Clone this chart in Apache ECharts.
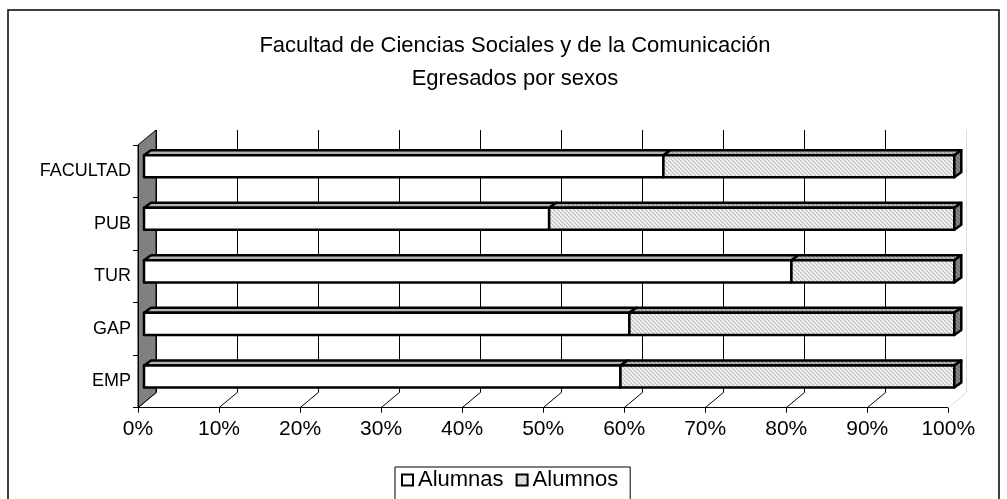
<!DOCTYPE html>
<html>
<head>
<meta charset="utf-8">
<script src="https://cdn.jsdelivr.net/npm/echarts@6/dist/echarts.min.js"></script>
<style>
  html, body { margin: 0; padding: 0; background: #fff; }
  #chart { width: 1007px; height: 499px; }
</style>
</head>
<body>
<div id="chart"></div>
<script>
  // datos (porcentaje sobre el total de egresados)
  const categorias = ['EMP', 'GAP', 'TUR', 'PUB', 'FACULTAD'];
  const alumnas = [58.8, 59.9, 79.9, 50.0, 64.1];
  const alumnos = [41.2, 40.1, 20.1, 50.0, 35.9];
  const ticksX = [0, 10, 20, 30, 40, 50, 60, 70, 80, 90, 100];

  const FONT = '"Liberation Sans", Arial, sans-serif';
  // profundidad del "3D" (pared del fondo) y del cuerpo de las barras
  const DEPTH = [18, -15];
  const FRONT = [6, -5];
  const BAR_DEPTH = [7, -5];

  const makeHatch = (bg, fg) => {
    const c = document.createElement('canvas');
    c.width = 4;
    c.height = 4;
    const ctx = c.getContext('2d');
    ctx.fillStyle = bg;
    ctx.fillRect(0, 0, 4, 4);
    ctx.strokeStyle = fg;
    ctx.lineWidth = 1.2;
    for (let k = -4; k <= 4; k += 4) {
      ctx.beginPath();
      ctx.moveTo(k, 0);
      ctx.lineTo(k + 4, 4);
      ctx.stroke();
    }
    return { image: c, repeat: 'repeat' };
  };

  const hatchFront = makeHatch('#f4f4f4', '#bababa');
  const hatchTop = makeHatch('#bcbcbc', '#8c8c8c');
  const hatchSide = makeHatch('#8a8a8a', '#666666');

  const barItem = (colors, last) => (params, api) => {
    const cat = api.value(0);
    const p0 = api.coord([api.value(1), cat]);
    const p1 = api.coord([api.value(2), cat]);
    const band = api.size([0, 1])[1];
    const h = band * 0.42;
    const x0 = p0[0] + FRONT[0];
    const x1 = p1[0] + FRONT[0];
    const yTop = p0[1] + FRONT[1] - h / 2;
    const yBot = yTop + h;
    const dx = BAR_DEPTH[0];
    const dy = BAR_DEPTH[1];
    const stroke = { stroke: '#000', lineWidth: 2.5, lineJoin: 'round' };
    const children = [
      {
        type: 'polygon',
        shape: { points: [[x0, yTop], [x0 + dx, yTop + dy], [x1 + dx, yTop + dy], [x1, yTop]] },
        style: Object.assign({ fill: colors.top }, stroke),
      },
      {
        type: 'rect',
        shape: { x: x0, y: yTop, width: x1 - x0, height: h },
        style: Object.assign({ fill: colors.front }, stroke),
      },
    ];
    if (last) {
      children.push({
        type: 'polygon',
        shape: { points: [[x1, yTop], [x1 + dx, yTop + dy], [x1 + dx, yBot + dy], [x1, yBot]] },
        style: Object.assign({ fill: colors.side }, stroke),
      });
    }
    return { type: 'group', children };
  };

  // pared izquierda y marcas del suelo
  const frameItem = (params, api) => {
    const v = api.value(0);
    const band = api.size([0, 1])[1];
    const p = api.coord([v, 0]);
    const bottom = p[1] + band / 2;
    const color = v === 100 ? '#dddddd' : '#000';
    const children = [{
      type: 'line',
      shape: { x1: p[0], y1: bottom, x2: p[0] + DEPTH[0], y2: bottom + DEPTH[1] },
      style: { stroke: color, lineWidth: 1 },
    }];
    if (v === 0) {
      const top = api.coord([0, categorias.length - 1])[1] - band / 2;
      children.push({
        type: 'polygon',
        shape: {
          points: [
            [p[0], top], [p[0] + DEPTH[0], top + DEPTH[1]],
            [p[0] + DEPTH[0], bottom + DEPTH[1]], [p[0], bottom],
          ],
        },
        style: { fill: '#808080', stroke: '#000', lineWidth: 1 },
      });
    }
    return { type: 'group', children };
  };

  const splitColors = ticksX.map((t) => (t === 100 ? '#dddddd' : '#000'));

  const chart = echarts.init(document.getElementById('chart'));
  chart.setOption({
    animation: false,
    backgroundColor: '#fff',
    textStyle: { fontFamily: FONT },
    title: {
      text: 'Facultad de Ciencias Sociales y de la Comunicación\nEgresados por sexos',
      left: 515,
      top: 29,
      padding: 0,
      textAlign: 'center',
      textStyle: { fontSize: 22, fontWeight: 'normal', color: '#000', lineHeight: 33, fontFamily: FONT },
    },
    legend: {
      left: 395,
      top: 467,
      padding: [2, 12, 40, 6],
      itemWidth: 11,
      itemHeight: 11,
      itemGap: 12,
      borderColor: '#000',
      borderWidth: 1,
      textStyle: { fontSize: 22, color: '#000', fontFamily: FONT },
      data: [
        { name: 'Alumnas', icon: 'rect', itemStyle: { color: '#fff', borderColor: '#000', borderWidth: 2 } },
        { name: 'Alumnos', icon: 'rect', itemStyle: { color: hatchFront, borderColor: '#000', borderWidth: 2 } },
      ],
    },
    graphic: [{
      type: 'rect',
      shape: { x: 8, y: 10, width: 991, height: 520 },
      style: { fill: null, stroke: '#000', lineWidth: 1.5 },
      silent: true,
    }],
    grid: [
      { left: 138, right: 58.7, top: 145, bottom: 91.3 },
      { left: 138 + DEPTH[0], right: 58.7 - DEPTH[0], top: 145 + DEPTH[1], bottom: 91.3 - DEPTH[1] },
    ],
    xAxis: [
      {
        gridIndex: 0,
        type: 'value',
        min: 0,
        max: 100,
        interval: 10,
        axisLine: { show: true, lineStyle: { color: '#000', width: 1 } },
        axisTick: { show: true, length: 5, lineStyle: { color: '#000' } },
        splitLine: { show: false },
        axisLabel: { formatter: '{value}%', fontSize: 21, color: '#000', margin: 11, fontFamily: FONT },
      },
      {
        gridIndex: 1,
        type: 'value',
        min: 0,
        max: 100,
        interval: 10,
        axisLine: { show: false },
        axisTick: { show: false },
        axisLabel: { show: false },
        splitLine: { show: true, lineStyle: { color: splitColors, width: 1 } },
      },
    ],
    yAxis: [
      {
        gridIndex: 0,
        type: 'category',
        data: categorias,
        axisLine: { show: true, lineStyle: { color: '#000', width: 1 } },
        axisTick: { show: true, length: 5, lineStyle: { color: '#000' } },
        axisLabel: { fontSize: 18, color: '#000', margin: 7, padding: [0, 0, 6, 0], fontFamily: FONT },
        z: 10,
      },
      {
        gridIndex: 1,
        type: 'category',
        data: categorias,
        show: false,
      },
    ],
    series: [
      {
        name: 'marco',
        type: 'custom',
        xAxisIndex: 0,
        yAxisIndex: 0,
        silent: true,
        z: 1,
        renderItem: frameItem,
        data: ticksX.map((t) => [t]),
      },
      {
        name: 'Alumnas',
        type: 'custom',
        xAxisIndex: 0,
        yAxisIndex: 0,
        z: 3,
        renderItem: barItem({ front: '#fff', top: '#b4b4b4', side: '#808080' }, false),
        data: categorias.map((c, i) => [i, 0, alumnas[i]]),
      },
      {
        name: 'Alumnos',
        type: 'custom',
        xAxisIndex: 0,
        yAxisIndex: 0,
        z: 3,
        renderItem: barItem({ front: hatchFront, top: hatchTop, side: hatchSide }, true),
        data: categorias.map((c, i) => [i, alumnas[i], alumnas[i] + alumnos[i]]),
      },
    ],
  });
</script>
</body>
</html>
